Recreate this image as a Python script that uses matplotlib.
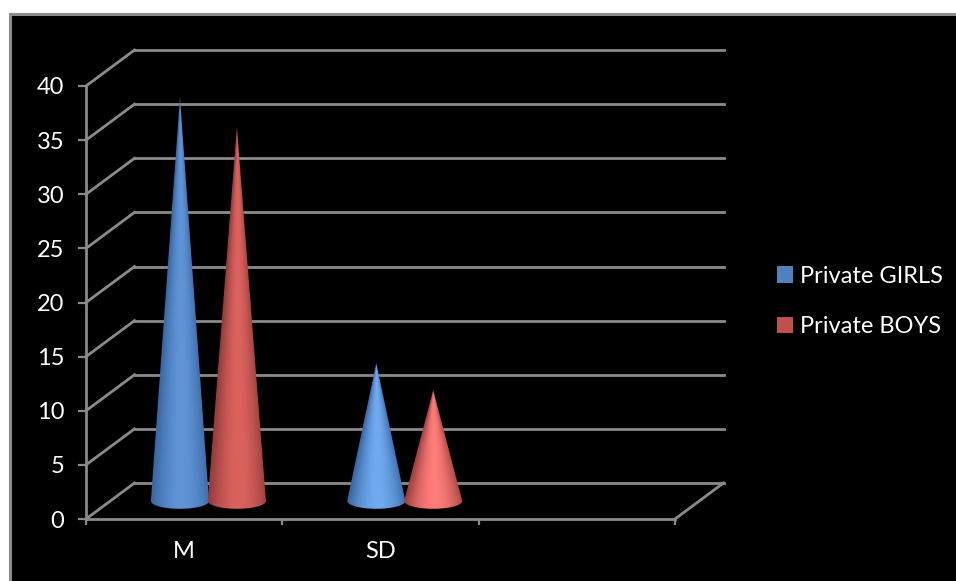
import numpy as np
import matplotlib
matplotlib.use('Agg')
import matplotlib.pyplot as plt
import matplotlib.patches as patches

plt.rcParams['font.family'] = ['Lato', 'DejaVu Sans']

categories = ['M', 'SD']
series_names = ['Private GIRLS', 'Private BOYS']
girls = [37.3, 12.75]
boys = [34.6, 10.25]
y_ticks = [0, 5, 10, 15, 20, 25, 30, 35, 40]

W, H = 956, 581
GRID = '#8a8a8a'
# oblique depth of the fake 3d box, in data units
DEPTH_X = 48.5 / 196.3
DEPTH_Y = 36 / 10.825


def cone(ax, xc, value, half_w, edge, centre):
    base = DEPTH_Y / 2
    top = base + value
    semi = 0.72
    # silhouette: apex down to the sides, round along the front of the base
    t = np.linspace(np.pi, 2 * np.pi, 40)
    xs = np.r_[xc, xc + half_w * np.cos(t)]
    ys = np.r_[top, base + semi * np.sin(t)]
    outline = patches.Polygon(np.c_[xs, ys], closed=True, transform=ax.transData,
                              fc='none', ec='none', clip_on=False)
    ax.add_patch(outline)

    gx = np.linspace(xc - half_w, xc + half_w, 160)
    gy = np.linspace(base - semi, top, 500)
    X, Y = np.meshgrid(gx, gy)
    hw = half_w * np.clip((top - Y) / value, 0.002, 1)
    u = np.clip((X - xc) / hw, -1, 1)
    shade = np.clip(1 - np.abs(u - 0.05) ** 1.8, 0, 1)[..., None]
    img = np.array(edge) + (np.array(centre) - np.array(edge)) * shade
    im = ax.imshow(img / 255, origin='lower', aspect='auto', interpolation='bilinear',
                   extent=(gx[0], gx[-1], gy[0], gy[-1]), zorder=4, clip_on=True)
    im.set_clip_path(outline)


fig = plt.figure(figsize=(W / 100, H / 100), dpi=100, facecolor='white')
# black panel runs off the right and bottom edges, only top/left border shows
fig.add_artist(patches.Rectangle((9.5 / W, -0.02), 1, 1.02 - 14 / H, transform=fig.transFigure,
                                 fc='black', ec='#8c8c8c', lw=2.2, zorder=-1))

ax = fig.add_axes([86 / W, 1 - 519 / H, 589 / W, 433 / H], facecolor='none')

# back wall gridlines, side wall lines, floor
for v in y_ticks:
    ax.plot([DEPTH_X, 3 + DEPTH_X], [v + DEPTH_Y, v + DEPTH_Y], color=GRID, lw=2, clip_on=False, zorder=1)
    ax.plot([0, DEPTH_X], [v, v + DEPTH_Y], color=GRID, lw=2, clip_on=False, zorder=1)
ax.plot([3, 3 + DEPTH_X], [0, DEPTH_Y], color=GRID, lw=2, clip_on=False, zorder=1)

pos = np.arange(len(categories)) + 0.5 + DEPTH_X / 2
offset = 0.145
blue_edge = [[58, 105, 165], [58, 105, 165]]
blue_mid = [[95, 148, 215], [112, 170, 240]]
red_edge = [[150, 62, 60], [160, 66, 64]]
red_mid = [[220, 98, 94], [255, 125, 122]]
for i in range(len(categories)):
    cone(ax, pos[i] - offset, girls[i], 0.148, blue_edge[i], blue_mid[i])
    cone(ax, pos[i] + offset, boys[i], 0.148, red_edge[i], red_mid[i])

ax.set_xlim(0, 3)
ax.set_ylim(0, 40)
for s in ['top', 'right']:
    ax.spines[s].set_visible(False)
for s in ['left', 'bottom']:
    ax.spines[s].set_color(GRID)
    ax.spines[s].set_linewidth(2)
ax.set_yticks(y_ticks)
ax.set_xticks([0, 1, 2, 3])
ax.set_xticklabels([])
ax.set_xticks([0.5, 1.5], minor=True)
ax.set_xticklabels(categories, minor=True)
ax.tick_params(axis='y', colors=GRID, labelcolor='white', labelsize=17, length=5.5, width=1.6, pad=10)
ax.tick_params(axis='x', which='major', colors=GRID, length=4.5, width=1.6)
ax.tick_params(axis='x', which='minor', length=0, labelcolor='white', labelsize=17, pad=16)

handles = [patches.Patch(fc='#4f81bd', label=series_names[0]),
           patches.Patch(fc='#c0504d', label=series_names[1])]
fig.legend(handles=handles, loc='upper left', bbox_to_anchor=(772 / W, 1 - 261 / H), frameon=False,
           fontsize=17, labelcolor='white', handlelength=0.7, handleheight=0.7,
           handletextpad=0.3, labelspacing=1.25, borderpad=0.2, borderaxespad=0)

fig.savefig('out.png', dpi=100)
